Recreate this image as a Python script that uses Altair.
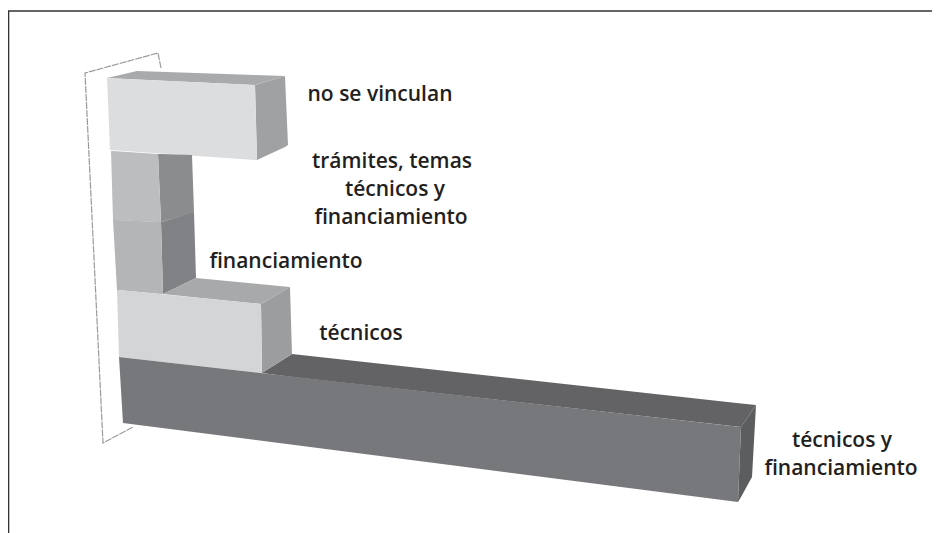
import altair as alt
import pandas as pd

face_names = [
    "vinc_top", "vinc_side", "vinc_front",
    "tram_side", "tram_front",
    "fin_side", "fin_front",
    "tec_top", "tec_side", "tec_front",
    "tf_top", "tf_side", "tf_front",
]
face_colors = [
    "#a9aaac", "#a0a1a3", "#dcddde",
    "#8b8c8e", "#bcbdbf",
    "#818285", "#b4b5b7",
    "#a8a9ab", "#9c9d9f", "#d4d5d7",
    "#636366", "#5c5d5f", "#77787b",
]
face_x = [
    [107, 137, 255, 285], [255, 257, 285, 288], [107, 110, 255, 257],
    [158, 161, 192, 194], [111, 113, 158, 161],
    [161, 163, 194, 196], [113, 117, 161, 163],
    [163, 196, 261, 290], [261, 262, 290, 292], [117, 119, 261, 262],
    [262, 292, 741, 756], [738, 741, 752, 756], [119, 123, 738, 741],
]
face_top = [
    [78, 71, 75, 76], [85, 84.4, 76, 145], [78, 78.2, 85, 160],
    [154, 154, 155, 212], [151, 151, 154, 222],
    [222, 221.4, 212, 278], [220, 220, 222, 294],
    [294, 278, 284.2, 287], [304, 303.4, 287, 354], [290, 290, 304, 373],
    [373, 354, 403.5, 405], [502, 427, 410.9, 405], [357, 357.5, 426.7, 427],
]
face_bottom = [
    [78, 79.4, 85, 76], [85, 160, 147, 145], [78, 150, 160, 160],
    [154, 222, 213, 212], [151, 220, 222, 222],
    [222, 294, 279, 278], [220, 290, 294, 294],
    [294, 297.4, 304, 287], [304, 373, 355, 354], [290, 357, 373, 373],
    [373, 377, 427, 405], [502, 497, 477, 405], [357, 423, 502, 427],
]

plane_x = [161, 158, 85, 103, 133]
plane_y = [68, 53, 73, 443, 427]

frame_x = [8.5, 8.5, 932]
frame_y = [533, 11, 11]

label_text = ["no se vinculan", "trámites, temas", "técnicos y", "financiamiento",
              "financiamiento", "técnicos", "técnicos y", "financiamiento"]
label_x = [380, 392, 395, 391, 286, 361, 842, 841]
label_y = [95, 162, 190, 218, 262, 334, 441, 469]

X = alt.Scale(domain=[8, 932], range=[0, 924])
Y = alt.Scale(domain=[8, 533], range=[0, 525])


def x_q(f):
    return alt.X(f, type="quantitative", scale=X, axis=None)


def y_q(f):
    return alt.Y(f, type="quantitative", scale=Y, axis=None)


layers = []
frame_df = pd.DataFrame({"x": frame_x, "y": frame_y, "o": range(len(frame_x))})
layers.append(alt.Chart(frame_df).mark_line(color="#333333", strokeWidth=1.6).encode(
    x=x_q("x"), y=y_q("y"), order="o:Q"))

plane_df = pd.DataFrame({"x": plane_x, "y": plane_y, "o": range(len(plane_x))})
layers.append(alt.Chart(plane_df).mark_line(color="#9a9a9a", strokeWidth=1.2, strokeDash=[7, 1]).encode(
    x=x_q("x"), y=y_q("y"), order="o:Q"))

for name, color, xs, tops, bottoms in zip(face_names, face_colors, face_x, face_top, face_bottom):
    df = pd.DataFrame({"x": xs, "top": tops, "bottom": bottoms})
    layers.append(alt.Chart(df).mark_area(color=color, opacity=1).encode(
        x=x_q("x"), y=y_q("top"), y2=alt.Y2("bottom")))

label_df = pd.DataFrame({"t": label_text, "x": label_x, "y": label_y})
layers.append(alt.Chart(label_df).mark_text(
    font="Open Sans", fontSize=21, fontWeight=600, color="#231f20", align="center", baseline="middle"
).encode(x=x_q("x"), y=y_q("y"), text="t:N"))

chart = alt.layer(*layers).properties(
    width=924, height=525, padding=0,
    autosize=alt.AutoSizeParams(type="none"),
).configure_view(stroke=None)

chart.save("out.html", embed_options={"renderer": "svg", "actions": False})
